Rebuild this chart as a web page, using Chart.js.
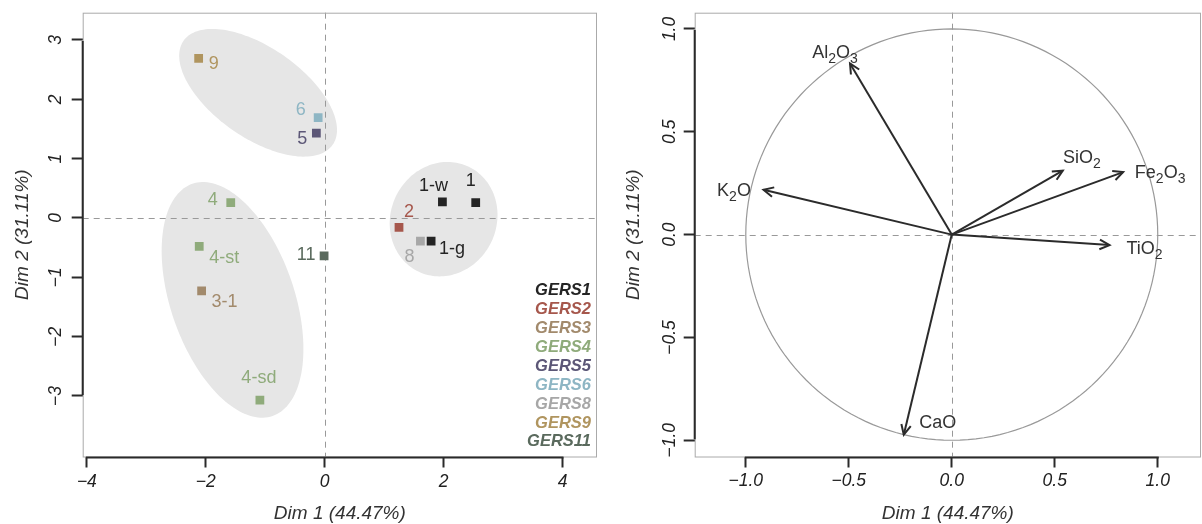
<!DOCTYPE html>
<html>
<head>
<meta charset="utf-8">
<script src="https://cdn.jsdelivr.net/npm/chart.js@4.4.0/dist/chart.umd.min.js"></script>
<style>
  html, body { margin: 0; padding: 0; background: #fff; }
  #wrap { position: relative; width: 1202px; height: 524px; }
  #ind { position: absolute; left: 0; top: 0; }
  #vars { position: absolute; left: 600px; top: 0; }
</style>
</head>
<body>
<div id="wrap">
  <canvas id="ind" width="600" height="524"></canvas>
  <canvas id="vars" width="602" height="524"></canvas>
</div>
<script>
// ---- data ----
const groups = ["GERS1", "GERS2", "GERS3", "GERS4", "GERS5", "GERS6", "GERS8", "GERS9", "GERS11"];
const groupColors = ["#242424", "#a6574c", "#a28a6c", "#8fab7b", "#5c5777", "#8eb6c4", "#a7a7a7", "#b0955f", "#5a6a5d"];

const sampleLabels = ["1", "1-w", "1-g", "2", "3-1", "4", "4-st", "4-sd", "5", "6", "8", "9", "11"];
const sampleGroup = [0, 0, 0, 1, 2, 3, 3, 3, 4, 5, 6, 7, 8];
const dim1 = [2.54, 1.98, 1.79, 1.25, -2.07, -1.58, -2.11, -1.09, -0.14, -0.11, 1.61, -2.12, -0.01];
const dim2 = [0.26, 0.27, -0.39, -0.16, -1.23, 0.26, -0.48, -3.07, 1.43, 1.69, -0.39, 2.69, -0.64];

// confidence ellipses (centre, semi-axes, tilt in degrees), data units
const ellCx = [-1.12, -1.55, 2.0];
const ellCy = [2.11, -1.38, -0.02];
const ellA = [1.53, 2.07, 0.98];
const ellB = [0.76, 1.04, 0.89];
const ellAngle = [-35, -71, 65];

const varNames = ["Al2O3", "K2O", "SiO2", "Fe2O3", "TiO2", "CaO"];
const varDim1 = [-0.494, -0.914, 0.539, 0.832, 0.766, -0.233];
const varDim2 = [0.832, 0.218, 0.311, 0.304, -0.051, -0.973];

const xTitle = "Dim 1 (44.47%)";
const yTitle = "Dim 2 (31.11%)";

// ---- styling ----
const FAM = '"Liberation Sans", Arial, Helvetica, sans-serif';
const labelOffset = {
  "1": [-5, -22], "1-w": [-9, -16], "1-g": [21, 8], "2": [10, -15], "3-1": [23, 11],
  "4": [-18, -3], "4-st": [25, 11.5], "4-sd": [-1, -22], "5": [-14, 6], "6": [-17.5, -8],
  "8": [-11, 16], "9": [15, 6], "11": [-18, -1]
};
const varOffset = {
  "Al2O3": [-15, -12], "K2O": [-29.5, 0], "SiO2": [19, -14],
  "Fe2O3": [37, -1], "TiO2": [35, 2.5], "CaO": [34, -13]
};

function fmt(dec) {
  return v => (v < 0 ? "\u2212" : "") + Math.abs(v).toFixed(dec);
}

function axisScale(opts) {
  return {
    type: "linear",
    min: opts.min, max: opts.max,
    afterFit: s => {
      opts.fit(s);
      s.paddingLeft = s.paddingRight = s.paddingTop = s.paddingBottom = 0;
    },
    afterBuildTicks: s => {
      s.ticks = s.ticks.filter(t => t.value >= opts.lo - 1e-9 && t.value <= opts.hi + 1e-9);
    },
    ticks: {
      stepSize: opts.step, includeBounds: false, autoSkip: false,
      minRotation: opts.rot || 0, maxRotation: opts.rot || 0,
      crossAlign: opts.rot ? "center" : "near", padding: opts.pad,
      color: "#222", font: { family: FAM, size: 17.5, style: "italic" },
      callback: fmt(opts.dec)
    },
    grid: { display: true, drawOnChartArea: false, drawTicks: true, tickLength: 11, tickWidth: 2, tickColor: "#2a2a2a" },
    border: { display: false },
    title: {
      display: true, text: opts.title, color: "#333",
      font: { family: FAM, size: 19, style: "italic" },
      padding: opts.tpad
    }
  };
}

function ellipsePath(ctx, xs, ys, cx, cy, a, b, deg) {
  const th = deg * Math.PI / 180;
  ctx.beginPath();
  for (let k = 0; k <= 160; k++) {
    const t = k / 160 * 2 * Math.PI;
    const ex = cx + a * Math.cos(t) * Math.cos(th) - b * Math.sin(t) * Math.sin(th);
    const ey = cy + a * Math.cos(t) * Math.sin(th) + b * Math.sin(t) * Math.cos(th);
    const px = xs.getPixelForValue(ex), py = ys.getPixelForValue(ey);
    if (k) ctx.lineTo(px, py); else ctx.moveTo(px, py);
  }
  ctx.closePath();
}

// box, dashed zero lines and the dark R-style axis segments
function frame(chart, firstX, lastX, firstY, lastY) {
  const ctx = chart.ctx, a = chart.chartArea;
  const xs = chart.scales.x, ys = chart.scales.y;
  ctx.save();
  ctx.strokeStyle = "#999";
  ctx.lineWidth = 1;
  ctx.setLineDash([6, 5]);
  const x0 = Math.round(xs.getPixelForValue(0)) + 0.5;
  const y0 = Math.round(ys.getPixelForValue(0)) + 0.5;
  ctx.beginPath();
  ctx.moveTo(x0, a.top); ctx.lineTo(x0, a.bottom);
  ctx.moveTo(a.left, y0); ctx.lineTo(a.right, y0);
  ctx.stroke();
  ctx.setLineDash([]);
  ctx.strokeStyle = "#aaa";
  ctx.strokeRect(a.left + 0.5, a.top + 0.5, a.right - a.left - 1, a.bottom - a.top);
  ctx.strokeStyle = "#2a2a2a";
  ctx.lineWidth = 2;
  ctx.beginPath();
  ctx.moveTo(xs.getPixelForValue(firstX) - 1, a.bottom + 1);
  ctx.lineTo(xs.getPixelForValue(lastX) + 1, a.bottom + 1);
  ctx.moveTo(a.left, ys.getPixelForValue(firstY) - 1);
  ctx.lineTo(a.left, ys.getPixelForValue(lastY) + 1);
  ctx.stroke();
  ctx.restore();
}

// ---- individuals map ----
const indData = groups.map((g, gi) => ({
  label: g,
  data: sampleLabels
    .map((s, i) => ({ x: dim1[i], y: dim2[i], name: s, g: sampleGroup[i] }))
    .filter(p => p.g === gi),
  pointStyle: "rect",
  pointRadius: 6.2,
  pointBorderWidth: 0,
  backgroundColor: groupColors[gi],
  showLine: false
}));

const indPlugin = {
  id: "indDecor",
  beforeDatasetsDraw(chart) {
    const ctx = chart.ctx, a = chart.chartArea;
    const xs = chart.scales.x, ys = chart.scales.y;
    ctx.save();
    ctx.beginPath();
    ctx.rect(a.left, a.top, a.right - a.left, a.bottom - a.top);
    ctx.clip();
    ctx.fillStyle = "#e6e6e6";
    for (let k = 0; k < ellCx.length; k++) {
      ellipsePath(ctx, xs, ys, ellCx[k], ellCy[k], ellA[k], ellB[k], ellAngle[k]);
      ctx.fill();
    }
    ctx.restore();
    frame(chart, -4, 4, -3, 3);
  },
  afterDatasetsDraw(chart) {
    const ctx = chart.ctx;
    ctx.save();
    ctx.textAlign = "center";
    ctx.textBaseline = "middle";
    ctx.font = "18px " + FAM;
    chart.data.datasets.forEach((ds, di) => {
      const meta = chart.getDatasetMeta(di);
      meta.data.forEach((pt, j) => {
        const name = ds.data[j].name;
        const off = labelOffset[name] || [0, -14];
        ctx.fillStyle = groupColors[di];
        ctx.fillText(name, pt.x + off[0], pt.y + off[1]);
      });
    });
    // legend, bottom right inside the box
    ctx.textAlign = "right";
    ctx.font = "italic bold 16.5px " + FAM;
    groups.forEach((g, gi) => {
      ctx.fillStyle = groupColors[gi];
      ctx.fillText(g, 591, 290.7 + gi * 18.9);
    });
    ctx.restore();
  }
};

new Chart(document.getElementById("ind"), {
  type: "scatter",
  data: { datasets: indData },
  options: {
    responsive: false,
    animation: false,
    layout: { autoPadding: false, padding: { top: 12.7, right: 3, left: 0, bottom: 0 } },
    plugins: { legend: { display: false }, tooltip: { enabled: false } },
    scales: {
      x: axisScale({ min: -4.07, max: 4.58, lo: -4, hi: 4, step: 2, dec: 0, pad: 4.5, title: xTitle,
        tpad: { top: 0, bottom: -1.4 }, fit: s => { s.height = 67.5; } }),
      y: axisScale({ min: -4.02, max: 3.46, lo: -3, hi: 3, step: 1, dec: 0, pad: 6, rot: 90, title: yTitle,
        tpad: { top: 11.3, bottom: 0 }, fit: s => { s.width = 82.7; } })
    }
  },
  plugins: [indPlugin]
});

// ---- variables (correlation circle) ----
const varData = varNames.map((n, i) => ({
  label: n,
  data: [{ x: 0, y: 0 }, { x: varDim1[i], y: varDim2[i] }],
  showLine: true,
  borderColor: "#2b2b2b",
  borderWidth: 2,
  pointRadius: 0
}));

function drawChem(ctx, txt, cx, cy) {
  const parts = txt.match(/\d+|\D+/g);
  const big = "18px " + FAM, small = "14px " + FAM;
  let total = 0;
  const widths = parts.map(p => {
    ctx.font = /\d/.test(p) ? small : big;
    const w = ctx.measureText(p).width;
    total += w;
    return w;
  });
  let x = cx - total / 2;
  const base = cy + 6.5;
  parts.forEach((p, k) => {
    const sub = /\d/.test(p);
    ctx.font = sub ? small : big;
    ctx.fillText(p, x, sub ? base + 5 : base);
    x += widths[k];
  });
}

const varPlugin = {
  id: "varDecor",
  beforeDatasetsDraw(chart) {
    const ctx = chart.ctx, a = chart.chartArea;
    const xs = chart.scales.x, ys = chart.scales.y;
    ctx.save();
    ctx.beginPath();
    ctx.rect(a.left, a.top, a.right - a.left, a.bottom - a.top);
    ctx.clip();
    ctx.strokeStyle = "#999";
    ctx.lineWidth = 1.2;
    ellipsePath(ctx, xs, ys, 0, 0, 1, 1, 0);
    ctx.stroke();
    ctx.restore();
    frame(chart, -1, 1, -1, 1);
  },
  afterDatasetsDraw(chart) {
    const ctx = chart.ctx;
    ctx.save();
    ctx.strokeStyle = "#2b2b2b";
    ctx.lineWidth = 2;
    ctx.fillStyle = "#333";
    ctx.textAlign = "left";
    ctx.textBaseline = "alphabetic";
    chart.data.datasets.forEach((ds, di) => {
      const pts = chart.getDatasetMeta(di).data;
      const o = pts[0], t = pts[1];
      const ang = Math.atan2(t.y - o.y, t.x - o.x);
      const L = 11, phi = 26 * Math.PI / 180;
      ctx.beginPath();
      ctx.moveTo(t.x - L * Math.cos(ang - phi), t.y - L * Math.sin(ang - phi));
      ctx.lineTo(t.x, t.y);
      ctx.lineTo(t.x - L * Math.cos(ang + phi), t.y - L * Math.sin(ang + phi));
      ctx.stroke();
      const off = varOffset[ds.label];
      drawChem(ctx, ds.label, t.x + off[0], t.y + off[1]);
    });
    ctx.restore();
  }
};

new Chart(document.getElementById("vars"), {
  type: "scatter",
  data: { datasets: varData },
  options: {
    responsive: false,
    animation: false,
    layout: { autoPadding: false, padding: { top: 12.7, right: 1, left: 0, bottom: 0 } },
    plugins: { legend: { display: false }, tooltip: { enabled: false } },
    scales: {
      x: axisScale({ min: -1.248, max: 1.21, lo: -1, hi: 1, step: 0.5, dec: 1, pad: 3.3, title: xTitle,
        tpad: { top: 0, bottom: -1.4 }, fit: s => { s.height = 67.5; } }),
      y: axisScale({ min: -1.079, max: 1.079, lo: -1, hi: 1, step: 0.5, dec: 1, pad: -4, rot: 90, title: yTitle,
        tpad: { top: 22.1, bottom: 0 }, fit: s => { s.width = 94.7; } })
    }
  },
  plugins: [varPlugin]
});
</script>
</body>
</html>
